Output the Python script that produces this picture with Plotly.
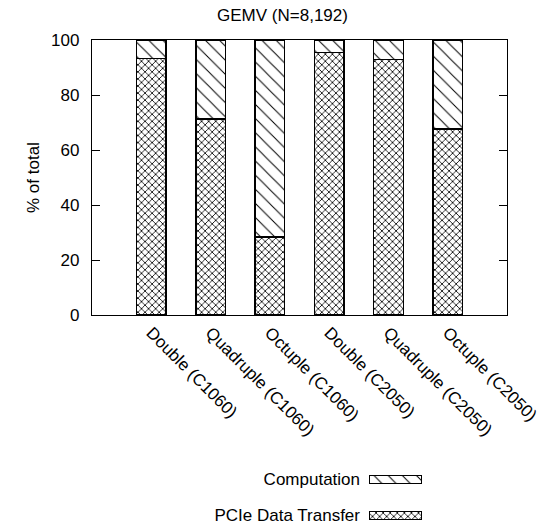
import plotly.graph_objects as go

categories = ["Double (C1060)", "Quadruple (C1060)", "Octuple (C1060)",
              "Double (C2050)", "Quadruple (C2050)", "Octuple (C2050)"]
transfer = [93.3, 71.2, 28.3, 95.4, 93.0, 67.6]
computation = [6.7, 28.8, 71.7, 4.6, 7.0, 32.4]
y_ticks = [0, 20, 40, 60, 80, 100]
legend_names = ["PCIe Data Transfer", "Computation"]

W, H = 553, 527
FONT = "Liberation Sans, Arial, sans-serif"
FS = 17

def px_x(p):
    return p / W

def px_y(p):
    return (H - p) / H

fig = go.Figure()
fig.add_trace(go.Bar(
    x=categories, y=transfer, name="PCIe Data Transfer", width=0.5,
    marker=dict(color="white", line=dict(color="black", width=1.5),
                pattern=dict(shape="x", fgcolor="black", bgcolor="white", size=5, solidity=0.3)),
    showlegend=False))
fig.add_trace(go.Bar(
    x=categories, y=computation, name="Computation", width=0.5,
    marker=dict(color="white", line=dict(color="black", width=1.5),
                pattern=dict(shape="\\", fgcolor="black", bgcolor="white", size=10, solidity=0.1)),
    showlegend=False))

# legend keys drawn as tiny horizontal bars on an auxiliary axis
fig.add_trace(go.Bar(
    y=[legend_names[1]], x=[1], orientation="h", width=0.22, xaxis="x2", yaxis="y2",
    marker=dict(color="white", line=dict(color="black", width=1.2),
                pattern=dict(shape="\\", fgcolor="black", bgcolor="white", size=10, solidity=0.1)),
    showlegend=False, hoverinfo="skip"))
fig.add_trace(go.Bar(
    y=[legend_names[0]], x=[1], orientation="h", width=0.22, xaxis="x2", yaxis="y2",
    marker=dict(color="white", line=dict(color="black", width=1.2),
                pattern=dict(shape="x", fgcolor="black", bgcolor="white", size=5, solidity=0.3)),
    showlegend=False, hoverinfo="skip"))

fig.update_layout(
    width=W, height=H, template="none", barmode="stack",
    margin=dict(l=0, r=0, t=0, b=0, autoexpand=False),
    paper_bgcolor="white", plot_bgcolor="white",
    font=dict(family=FONT, size=FS, color="black"),
    showlegend=False,
    title=dict(text="GEMV (N=8,192)", x=px_x(282.5), xanchor="center", xref="paper",
               y=px_y(15), yanchor="middle", yref="paper", font=dict(size=FS)),
    xaxis=dict(domain=[px_x(92), px_x(507)], range=[-1, 6], type="category",
               categoryorder="array", categoryarray=categories,
               showline=True, linecolor="black", linewidth=1.3, mirror=True,
               ticks="", tickangle=45, showgrid=False, zeroline=False, automargin=False,
               tickfont=dict(size=FS)),
    yaxis=dict(domain=[px_y(315), px_y(40)], range=[0, 100], tickvals=y_ticks,
               showline=True, linecolor="black", linewidth=1.3, mirror="ticks",
               ticks="inside", ticklen=8, tickwidth=1.2, tickcolor="black",
               ticklabelstandoff=8,
               showgrid=False, zeroline=False, automargin=False, tickfont=dict(size=FS)),
    xaxis2=dict(domain=[px_x(369), px_x(422)], range=[0, 1], anchor="y2",
                visible=False, showgrid=False, zeroline=False),
    yaxis2=dict(domain=[px_y(524.5), px_y(470.5)], range=[-0.25, 1.25], anchor="x2",
                type="category", categoryorder="array", categoryarray=legend_names,
                showline=False, showgrid=False, zeroline=False, ticks="",
                ticklabelstandoff=8, automargin=False, tickfont=dict(size=FS)),
    annotations=[dict(text="% of total", x=px_x(33), y=px_y(178), xref="paper", yref="paper",
                      textangle=-90, showarrow=False, xanchor="center", yanchor="middle",
                      font=dict(size=FS))],
)

fig.write_html("out.html")
